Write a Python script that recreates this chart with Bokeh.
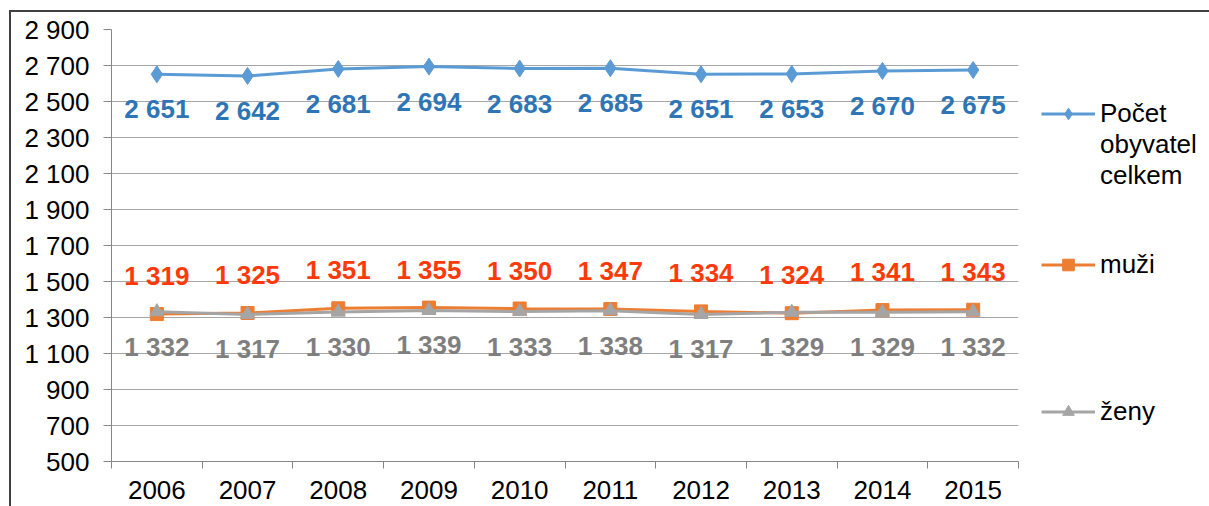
from bokeh.plotting import figure
from bokeh.models import ColumnDataSource, FixedTicker, Legend, LegendItem, Range1d
from bokeh.core.properties import value
from bokeh.embed import file_html
from bokeh.resources import INLINE

years = ["2006", "2007", "2008", "2009", "2010", "2011", "2012", "2013", "2014", "2015"]
total = [2651, 2642, 2681, 2694, 2683, 2685, 2651, 2653, 2670, 2675]
men = [1319, 1325, 1351, 1355, 1350, 1347, 1334, 1324, 1341, 1343]
women = [1332, 1317, 1330, 1339, 1333, 1338, 1317, 1329, 1329, 1332]
y_ticks = list(range(500, 3000, 200))
series_names = [["Počet", "obyvatel", "celkem"], ["muži"], ["ženy"]]

def fmt(v):
    return f"{v:,}".replace(",", " ")

xs = [i + 0.5 for i in range(len(years))]
src = ColumnDataSource(dict(
    x=xs, total=total, men=men, women=women,
    total_lbl=[fmt(v) for v in total],
    men_lbl=[fmt(v) for v in men],
    women_lbl=[fmt(v) for v in women],
))

FONT = "Liberation Sans"
p = figure(frame_width=907, frame_height=432, output_backend="svg", toolbar_location=None,
           x_range=Range1d(0, len(years)), y_range=Range1d(500, 2900),
           min_border_left=100, min_border_right=191, min_border_top=17, min_border_bottom=45)
p.styles = {"margin-left": "9px", "margin-top": "10px",
            "border-left": "2px solid #404040", "border-top": "2px solid #404040"}
p.outline_line_color = None
p.background_fill_color = "white"

# axes
p.xaxis.ticker = FixedTicker(ticks=xs, minor_ticks=list(range(len(years) + 1)))
p.xaxis.major_label_overrides = {x: y for x, y in zip(xs, years)}
p.xaxis.major_tick_out = 0
p.xaxis.major_tick_in = 0
p.xaxis.minor_tick_out = 7
p.xaxis.minor_tick_in = 0
p.xaxis.minor_tick_line_color = "#868686"
p.xaxis.axis_line_color = "#868686"
p.xaxis.major_label_text_font = FONT
p.xaxis.major_label_text_font_size = "26px"
p.xaxis.major_label_text_color = "black"
p.xaxis.major_label_standoff = 12

p.yaxis.ticker = FixedTicker(ticks=y_ticks)
p.yaxis.major_label_overrides = {v: fmt(v) for v in y_ticks}
p.yaxis.major_tick_out = 8
p.yaxis.major_tick_in = 0
p.yaxis.minor_tick_line_color = None
p.yaxis.major_tick_line_color = "#868686"
p.yaxis.axis_line_color = "#868686"
p.yaxis.major_label_text_font = FONT
p.yaxis.major_label_text_font_size = "26px"
p.yaxis.major_label_text_color = "black"
p.yaxis.major_label_standoff = 14

p.xgrid.grid_line_color = None
p.ygrid.grid_line_color = "#A6A6A6"
p.ygrid.grid_line_width = 1

# series
BLUE, ORANGE, GREY = "#5B9BD5", "#ED7D31", "#A5A5A5"
l1 = p.line("x", "total", source=src, color=BLUE, line_width=3)
m1 = p.scatter("x", "total", source=src, marker="diamond", size=17, color=BLUE)
l2 = p.line("x", "men", source=src, color=ORANGE, line_width=3)
m2 = p.scatter("x", "men", source=src, marker="square", size=13, color=ORANGE)
l3 = p.line("x", "women", source=src, color=GREY, line_width=3)
m3 = p.scatter("x", "women", source=src, marker="triangle", size=14, color=GREY)

# data labels
common = dict(source=src, text_font=value(FONT), text_font_style="bold", text_font_size="26px",
              text_align="center", text_baseline="middle")
p.text("x", "total", text="total_lbl", y_offset=35, text_color="#2E75B6", **common)
p.text("x", "men", text="men_lbl", y_offset=-38, text_color="#FF3A0A", **common)
p.text("x", "women", text="women_lbl", y_offset=35, text_color="#7F7F7F", **common)

# legend: one row per text line; blank rows space the entries like the reference
rows = []
for lines, rends, gap in [(series_names[0], [l1, m1], 2), (series_names[1], [l2, m2], 4),
                          (series_names[2], [l3, m3], 0)]:
    rows.append(LegendItem(label=lines[0], renderers=rends))
    for extra in lines[1:]:
        rows.append(LegendItem(label=extra, renderers=[]))
    for _ in range(gap):
        rows.append(LegendItem(label=" ", renderers=[]))

lg = Legend(items=rows, location=(23, 34),
            border_line_color=None, background_fill_alpha=0, padding=0, margin=0, spacing=0,
            glyph_width=54, glyph_height=29, label_height=29, label_standoff=5,
            label_text_font=FONT, label_text_font_size="26px", label_text_color="black",
            label_text_baseline="middle")
p.add_layout(lg, "right")

open("out.html", "w").write(file_html(p, INLINE))
